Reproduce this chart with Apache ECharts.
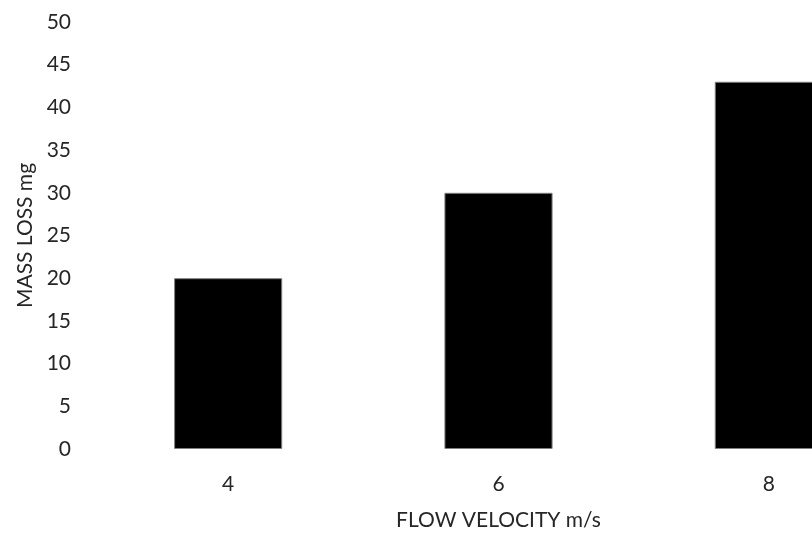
<!DOCTYPE html>
<html>
<head>
<meta charset="utf-8">
<script src="https://cdn.jsdelivr.net/npm/echarts@6/dist/echarts.min.js"></script>
<style>html,body{margin:0;padding:0;background:#fff}#c{width:812px;height:535px}</style>
</head>
<body>
<div id="c"></div>
<script>
const categories = ['4', '6', '8'];
const massLoss = [20, 30, 43];
const yTicks = { min: 0, max: 50, interval: 5 };
const xName = 'FLOW VELOCITY m/s';
const yName = 'MASS LOSS mg';

const font = 'Lato';
const fs = 21;
const chart = echarts.init(document.getElementById('c'));
chart.setOption({
  animation: false,
  backgroundColor: '#ffffff',
  grid: { left: 93, top: 22, bottom: 86, width: 811, containLabel: false, outerBoundsMode: 'none' },
  xAxis: {
    type: 'category',
    data: categories,
    name: xName,
    nameLocation: 'middle',
    nameGap: 61,
    nameTextStyle: { fontFamily: font, fontSize: fs, color: '#262626' },
    axisLine: { show: false },
    axisTick: { show: false },
    axisLabel: { fontFamily: font, fontSize: fs, color: '#262626', margin: 25 }
  },
  yAxis: {
    type: 'value',
    min: yTicks.min, max: yTicks.max, interval: yTicks.interval,
    name: yName,
    nameLocation: 'middle',
    nameGap: 57,
    nameTextStyle: { fontFamily: font, fontSize: fs, color: '#262626' },
    axisLine: { show: false },
    axisTick: { show: false },
    splitLine: { show: false },
    axisLabel: { fontFamily: font, fontSize: fs, color: '#262626', margin: 22 }
  },
  series: [{
    type: 'bar',
    data: massLoss,
    barWidth: '40%',
    itemStyle: { color: '#000000', borderColor: '#7f7f7f', borderWidth: 1 }
  }]
});
</script>
</body>
</html>
